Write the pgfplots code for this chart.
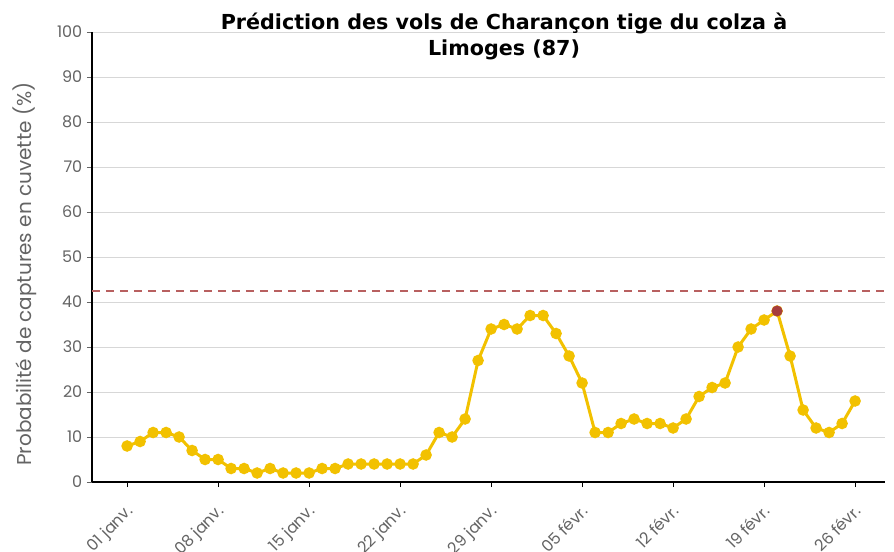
\documentclass[border=0pt]{standalone}
\usepackage{pgfplots}
\pgfplotsset{compat=1.18}
\usepackage{fontspec}
\setmainfont{Poppins}
\newfontfamily\titlefont{DejaVu Sans}
\definecolor{lineY}{RGB}{242,193,0}
\definecolor{redpt}{RGB}{166,61,61}
\definecolor{dashc}{RGB}{184,96,96}
\definecolor{gridc}{RGB}{215,215,215}
\definecolor{txtc}{RGB}{100,100,100}
\newlength{\px}\setlength{\px}{0.75pt}
\begin{document}
\begin{tikzpicture}
\path[use as bounding box] (-92\px,-69\px) rectangle (802\px,482\px);
\begin{axis}[
  at={(0,0)}, anchor=south west,
  scale only axis, width=793\px, height=450\px,
  xmin=-2.7, xmax=58.3, ymin=0, ymax=100,
  axis x line=bottom, axis y line=left,
  axis line style={-, black, line width=1.5\px},
  xtick={0,7,14,21,28,35,42,49,56},
  xticklabels={01 janv.,08 janv.,15 janv.,22 janv.,29 janv.,05 févr.,12 févr.,19 févr.,26 févr.},
  xticklabel style={xshift=-2\px, yshift=-10\px, rotate=45, anchor=north east, font=\fontsize{12}{13}\selectfont, text=txtc},
  ytick={0,10,...,100},
  yticklabel style={font=\fontsize{12}{13}\selectfont, text=txtc},
  /pgf/number format/assume math mode=true,
  x tick style={black, line width=1\px},
  y tick style={txtc, line width=1\px},
  tick align=outside, major tick length=5\px,
  ymajorgrids, grid style={gridc, line width=1\px},
  ylabel={Probabilité de captures en cuvette (\%)},
  ylabel style={at={(axis description cs:-0.0845,0.462)}, anchor=center, font=\fontsize{15}{16}\selectfont, text=txtc},
  clip=false,
]
\addplot[dashc, line width=2\px, dash pattern=on 8\px off 6\px] coordinates {(-2.7,42.5) (58.3,42.5)};
\addplot[lineY, line width=3\px, mark=*, mark size=4.2\px, mark options={fill=lineY, draw=lineY}] coordinates {
(0,8)(1,9)(2,11)(3,11)(4,10)(5,7)(6,5)(7,5)(8,3)(9,3)(10,2)(11,3)(12,2)(13,2)(14,2)
(15,3)(16,3)(17,4)(18,4)(19,4)(20,4)(21,4)(22,4)(23,6)(24,11)(25,10)(26,14)(27,27)
(28,34)(29,35)(30,34)(31,37)(32,37)(33,33)(34,28)(35,22)(36,11)(37,11)(38,13)(39,14)
(40,13)(41,13)(42,12)(43,14)(44,19)(45,21)(46,22)(47,30)(48,34)(49,36)(50,38)(51,28)
(52,16)(53,12)(54,11)(55,13)(56,18)};
\addplot[only marks, mark=*, mark size=5.2\px, mark options={fill=redpt, draw=redpt}] coordinates {(50,38)};
\end{axis}
\node[font=\titlefont\bfseries\fontsize{15.5}{19.5}\selectfont, align=center] at (412\px,446\px) {Prédiction des vols de Charançon tige du colza à\\Limoges (87)};
\end{tikzpicture}
\end{document}
